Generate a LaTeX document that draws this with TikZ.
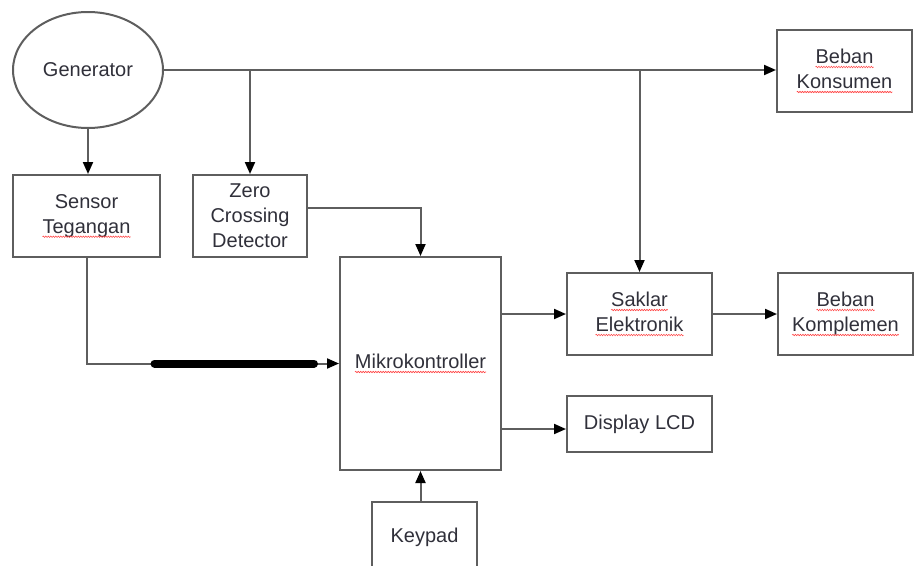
\documentclass[tikz,border=0pt]{standalone}
\usepackage{fontspec}
\setmainfont{Liberation Sans}
\usetikzlibrary{arrows.meta,shapes.geometric,calc,decorations.pathmorphing}
\definecolor{linec}{HTML}{5E5E5E}
\definecolor{textc}{HTML}{30303A}
\newcommand\spellw[1]{\tikz[baseline=(w.base),x=1cm,y=1cm]{%
  \node[shape=rectangle,draw=none,inner sep=0pt,outer sep=0pt,minimum width=0pt,minimum height=0pt] (w) {#1};%
  \draw[draw=red!75!white,line width=0.6pt,decorate,decoration={snake,segment length=2.5pt,amplitude=0.7pt}]
    ([yshift=-3.5pt]w.base west) -- ([yshift=-3.5pt]w.base east);}}
\begin{document}
\begin{tikzpicture}[x=1pt,y=-1pt,
  box/.style={draw=linec,line width=2pt,rectangle,inner sep=0pt,align=center,text=textc,
    font=\fontsize{20}{25}\selectfont},
  conn/.style={draw=linec,line width=2pt},
  arr/.style={conn,-{Triangle[length=12pt,width=10pt,fill=black,color=black]}},
  thickbar/.style={draw=black,line width=8pt,line cap=round}]
\clip (0,0) rectangle (915,565);
\useasboundingbox (0,0) rectangle (915,565);
\node[box,ellipse,minimum width=150,minimum height=116] (gen) at (88,70) {Generator};
\node[box,minimum width=147,minimum height=82] (sensor) at (86.5,216) {Sensor\\\spellw{Tegangan}};
\node[box,minimum width=114,minimum height=82] (zcd) at (250,216) {Zero\\Crossing\\Detector};
\node[box,minimum width=135,minimum height=82] (bkons) at (844.5,71) {\spellw{Beban}\\\spellw{Konsumen}};
\node[box,minimum width=161,minimum height=213] (mikro) at (420.5,363.5) {\spellw{Mikrokontroller}};
\node[box,minimum width=145,minimum height=82] (saklar) at (639.5,314) {\spellw{Saklar}\\\spellw{Elektronik}};
\node[box,minimum width=135,minimum height=82] (bkomp) at (845.5,314) {\spellw{Beban}\\\spellw{Komplemen}};
\node[box,minimum width=145,minimum height=56] (lcd) at (639.5,424) {Display LCD};
\node[box,minimum width=105,minimum height=70] (keypad) at (424.5,537) {Keypad};
% main bus
\draw[arr] (gen.east) -- (gen.east -| bkons.west);
\draw[arr] (gen.east -| zcd.north) -- (zcd.north);
\draw[arr] (gen.east -| saklar.north) -- (saklar.north);
\draw[arr] (gen.south) -- (gen.south |- sensor.north);
% zcd to mikro
\coordinate (zout) at ([yshift=8pt]zcd.east);
\draw[arr] (zout) -| (mikro.north);
% sensor to mikro
\coordinate (scorner) at (sensor.south |- mikro.west);
\draw[arr] (sensor.south) |- (mikro.west);
\draw[thickbar] ($(scorner)+(68,0)$) -- ($(mikro.west)+(-25,0)$);
% outputs
\draw[arr] (mikro.east |- saklar.west) -- (saklar.west);
\draw[arr] (saklar.east) -- (bkomp.west);
\coordinate (lcdin) at ([yshift=-5pt]lcd.west);
\draw[arr] (mikro.east |- lcdin) -- (lcdin);
\draw[arr] (mikro.south |- keypad.north) -- (mikro.south);
\end{tikzpicture}
\end{document}
